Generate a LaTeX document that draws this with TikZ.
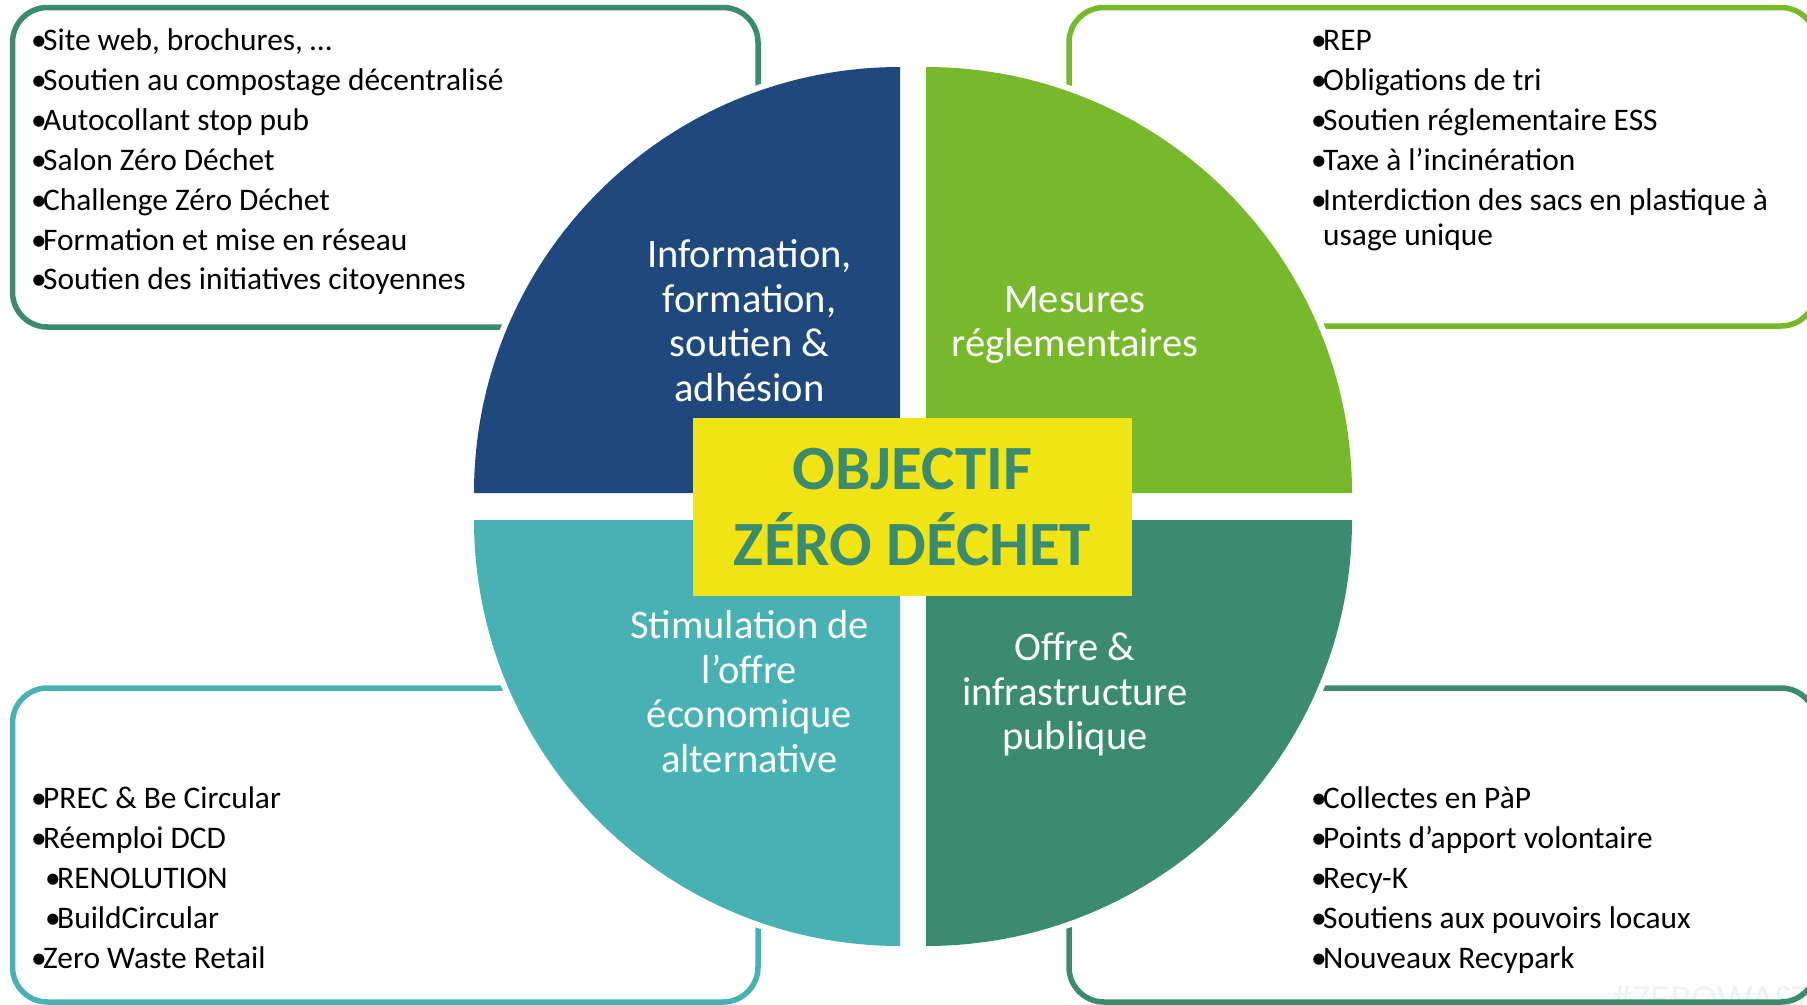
\documentclass[tikz,border=0pt]{standalone}
\usepackage{fontspec}
\setmainfont{Carlito}
\newlength{\du}
\setlength{\du}{1bp}
\definecolor{infoblue}{RGB}{31,73,125}
\definecolor{rulegreen}{RGB}{120,184,43}
\definecolor{offergreen}{RGB}{58,139,111}
\definecolor{stimteal}{RGB}{71,177,180}
\definecolor{goalyellow}{RGB}{240,228,21}
\newcommand{\bul}{\makebox[12\du][l]{\textbullet}}
\tikzset{
  listbox/.style={line width=5.5\du, rounded corners=35\du},
  quadtext/.style={text=white, anchor=base, inner sep=0pt, font=\fontsize{40.5\du}{46\du}\selectfont},
  listitem/.style={anchor=base west, inner sep=0pt, font=\fontsize{31.4\du}{37\du}\selectfont},
  goaltext/.style={text=offergreen, anchor=base, inner sep=0pt, font=\fontsize{63\du}{75\du}\selectfont\bfseries},
}
\begin{document}
\begin{tikzpicture}
\pgftransformyscale{-1.000000}
\useasboundingbox (0\du,0\du) rectangle (1807\du,1004\du);
% watermark
\node[anchor=base west, inner sep=0pt, text=offergreen!10, font=\fontsize{40\du}{48\du}\selectfont] (tag) at (1612\du,1012\du) {\#ZEROWASTE};
% boxes
\draw[listbox, offergreen] (12.5\du,7.5\du) rectangle (758\du,327\du);
\draw[listbox, rulegreen] (1069\du,7.5\du) rectangle (1816\du,326\du);
\draw[listbox, stimteal] (12.5\du,688\du) rectangle (758\du,1002\du);
\draw[listbox, offergreen] (1069\du,688\du) rectangle (1816\du,1002\du);
% white rim round the quarters
\fill[white] (900\du,493\du) -- ++(-432\du,0\du) arc[start angle=180, end angle=270, radius=432\du] -- cycle;
\fill[white] (926\du,493\du) -- ++(0\du,-432\du) arc[start angle=270, end angle=360, radius=432\du] -- cycle;
\fill[white] (926\du,520\du) -- ++(432\du,0\du) arc[start angle=0, end angle=90, radius=432\du] -- cycle;
\fill[white] (900\du,520\du) -- ++(0\du,432\du) arc[start angle=90, end angle=180, radius=432\du] -- cycle;
% quarters
\fill[infoblue] (900\du,493\du) -- ++(-426\du,0\du) arc[start angle=180, end angle=270, radius=426\du] -- cycle;
\fill[rulegreen] (926\du,493\du) -- ++(0\du,-426\du) arc[start angle=270, end angle=360, radius=426\du] -- cycle;
\fill[offergreen] (926\du,520\du) -- ++(426\du,0\du) arc[start angle=0, end angle=90, radius=426\du] -- cycle;
\fill[stimteal] (900\du,520\du) -- ++(0\du,426\du) arc[start angle=90, end angle=180, radius=426\du] -- cycle;
% quarter labels
\node[quadtext] (qi1) at (749.5\du,267.5\du) {Information,};
\node[quadtext] (qi2) at (749.5\du,312\du) {formation,};
\node[quadtext] (qi3) at (749.5\du,356.5\du) {soutien \&};
\node[quadtext] (qi4) at (749.5\du,401\du) {adhésion};
\node[quadtext] (qr1) at (1075\du,312\du) {Mesures};
\node[quadtext] (qr2) at (1075\du,356.5\du) {réglementaires};
\node[quadtext] (qs1) at (749.5\du,638.5\du) {Stimulation de};
\node[quadtext] (qs2) at (749.5\du,683\du) {l’offre};
\node[quadtext] (qs3) at (749.5\du,727.5\du) {économique};
\node[quadtext] (qs4) at (749.5\du,772\du) {alternative};
\node[quadtext] (qo1) at (1075\du,660.5\du) {Offre \&};
\node[quadtext] (qo2) at (1075\du,705\du) {infrastructure};
\node[quadtext] (qo3) at (1075\du,749.5\du) {publique};
% centre
\node[fill=goalyellow, minimum width=439\du, minimum height=178\du, inner sep=0pt] (goal) at (912.5\du,507\du) {};
\node[goaltext] (goal1) at (912.5\du,489\du) {OBJECTIF};
\node[goaltext] (goal2) at (912.5\du,565\du) {ZÉRO DÉCHET};
% top left list
\node[listitem] (info1) at (31\du,50.5\du) {\bul Site web, brochures, …};
\node[listitem] (info2) at (31\du,90.4\du) {\bul Soutien au compostage décentralisé};
\node[listitem] (info3) at (31\du,130.3\du) {\bul Autocollant stop pub};
\node[listitem] (info4) at (31\du,170.2\du) {\bul Salon Zéro Déchet};
\node[listitem] (info5) at (31\du,210.1\du) {\bul Challenge Zéro Déchet};
\node[listitem] (info6) at (31\du,250\du) {\bul Formation et mise en réseau};
\node[listitem] (info7) at (31\du,289.9\du) {\bul Soutien des initiatives citoyennes};
% top right list
\node[listitem] (rule1) at (1311\du,50.5\du) {\bul REP};
\node[listitem] (rule2) at (1311\du,90.4\du) {\bul Obligations de tri};
\node[listitem] (rule3) at (1311\du,130.3\du) {\bul Soutien réglementaire ESS};
\node[listitem] (rule4) at (1311\du,170.2\du) {\bul Taxe à l’incinération};
\node[listitem] (rule5) at (1311\du,210.1\du) {\bul Interdiction des sacs en plastique à};
\node[listitem] (rule5b) at (1323\du,245.5\du) {usage unique};
% bottom left list
\node[listitem] (stim1) at (31\du,808\du) {\bul PREC \& Be Circular};
\node[listitem] (stim2) at (31\du,848\du) {\bul Réemploi DCD};
\node[listitem] (stim3) at (45\du,888\du) {\bul RENOLUTION};
\node[listitem] (stim4) at (45\du,928\du) {\bul BuildCircular};
\node[listitem] (stim5) at (31\du,968\du) {\bul Zero Waste Retail};
% bottom right list
\node[listitem] (offer1) at (1311\du,808\du) {\bul Collectes en PàP};
\node[listitem] (offer2) at (1311\du,848\du) {\bul Points d’apport volontaire};
\node[listitem] (offer3) at (1311\du,888\du) {\bul Recy-K};
\node[listitem] (offer4) at (1311\du,928\du) {\bul Soutiens aux pouvoirs locaux};
\node[listitem] (offer5) at (1311\du,968\du) {\bul Nouveaux Recypark};
\end{tikzpicture}
\end{document}
